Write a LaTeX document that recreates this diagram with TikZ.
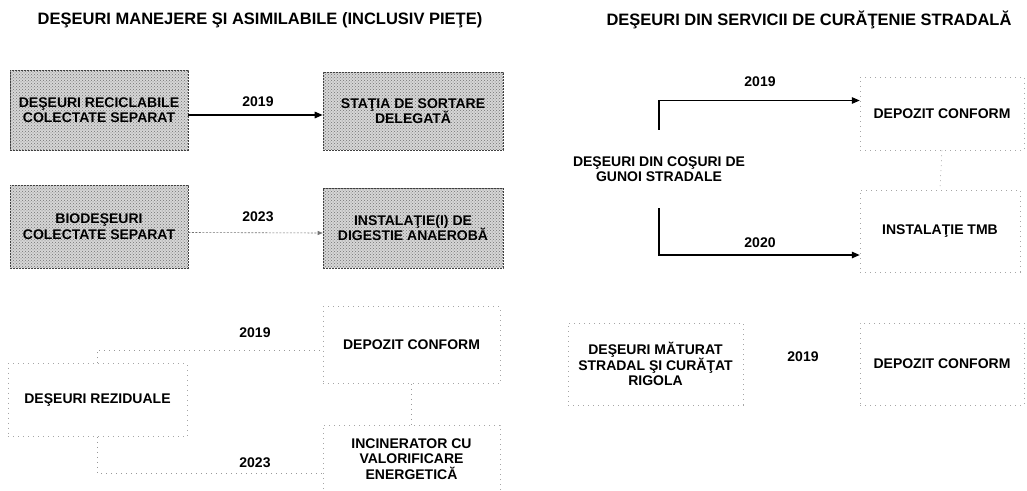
\documentclass[tikz,border=0pt]{standalone}
\usepackage{fontspec}
\setmainfont{Liberation Sans}
\usetikzlibrary{arrows.meta,patterns,calc}
\begin{document}
\begin{tikzpicture}[x=1pt,y=-1pt,
  every node/.style={font=\bfseries\fontsize{14}{15.5}\selectfont, align=center, inner sep=2pt},
  shadedbox/.style={draw=black!75, line width=0.6pt, dash pattern=on 2pt off 1pt,
    preaction={fill=black!16}, pattern=crosshatch dots, pattern color=black!55},
  faintbox/.style={draw=black!35, line width=0.5pt, dash pattern=on 1pt off 4pt},
  solidarrow/.style={draw=black, line width=1.4pt, -{Triangle[length=8pt,width=6.5pt]}},
  faintline/.style={draw=black!40, line width=0.5pt, dash pattern=on 1pt off 4pt},
  fadedarrow/.style={draw=black!55, line width=0.6pt, dash pattern=on 2pt off 1.5pt, -{Triangle[length=5pt,width=4pt]}},
  yearlabel/.style={inner sep=0pt},
  titlelabel/.style={font=\bfseries\fontsize{16.5}{18}\selectfont, inner sep=0pt}
]
\useasboundingbox (0,0) rectangle (1027,490);

% titles
\node[titlelabel] (t1) at (260,20) {DEŞEURI MANEJERE ŞI ASIMILABILE (INCLUSIV PIEŢE)};
\node[titlelabel] (t2) at (809,20) {DEŞEURI DIN SERVICII DE CURĂŢENIE STRADALĂ};

% left column
\node[shadedbox, minimum width=178pt, minimum height=80pt] (A) at (99,110) {DEŞEURI RECICLABILE\\COLECTATE SEPARAT};
\node[shadedbox, minimum width=180pt, minimum height=78pt] (B) at (413,111) {STAŢIA DE SORTARE\\DELEGATĂ};
\node[shadedbox, minimum width=178pt, minimum height=83pt] (C) at (99,226.5) {BIODEŞEURI\\COLECTATE SEPARAT};
\node[shadedbox, minimum width=180pt, minimum height=80pt] (D) at (413,228) {INSTALAŢIE(I) DE\\DIGESTIE ANAEROBĂ};
\node[faintbox, minimum width=179pt, minimum height=73pt] (E) at (97.5,400) {DEŞEURI REZIDUALE};
\node[faintbox, minimum width=177pt, minimum height=77pt] (F) at (411.5,345) {DEPOZIT CONFORM};
\node[faintbox, minimum width=177pt, minimum height=68pt] (G) at (411.5,459) {INCINERATOR CU\\VALORIFICARE\\ENERGETICĂ};

\draw[solidarrow] ([yshift=-5pt]A.east) -- ([yshift=-4pt]B.west);
\draw[fadedarrow] ([yshift=-6pt]C.east) -- ([yshift=-5pt]D.west);
\draw[faintline] (E.north) |- ([yshift=-5pt]F.west);
\draw[faintline] (E.south) |- ([yshift=-14pt]G.west);
\draw[faintline] (F.south) -- (G.north);

\node[yearlabel] (y1) at (258,102) {2019};
\node[yearlabel] (y2) at (258,217) {2023};
\node[yearlabel] (y3) at (255,333) {2019};
\node[yearlabel] (y4) at (255,463) {2023};

% right column
\node[minimum height=78pt] (H) at (659,169) {DEŞEURI DIN COŞURI DE\\GUNOI STRADALE};
\node[faintbox, minimum width=164pt, minimum height=73pt] (I) at (942,113.5) {DEPOZIT CONFORM};
\node[faintbox, minimum width=160pt, minimum height=82pt] (J) at (940,231) {INSTALAŢIE TMB};
\node[faintbox, minimum width=175pt, minimum height=82pt] (K) at (655.5,364) {DEŞEURI MĂTURAT\\STRADAL ŞI CURĂŢAT\\RIGOLA};
\node[faintbox, minimum width=164pt, minimum height=82pt] (L) at (942,364) {DEPOZIT CONFORM};

\draw[solidarrow] (H.north) |- ([yshift=13pt]I.west);
\draw[solidarrow] (H.south) |- ([yshift=-24pt]J.west);
\draw[faintline] (I.south) -- (J.north);

\node[yearlabel] (y5) at (760,82) {2019};
\node[yearlabel] (y6) at (760,243) {2020};
\node[yearlabel] (y7) at (803,357) {2019};
\end{tikzpicture}
\end{document}
